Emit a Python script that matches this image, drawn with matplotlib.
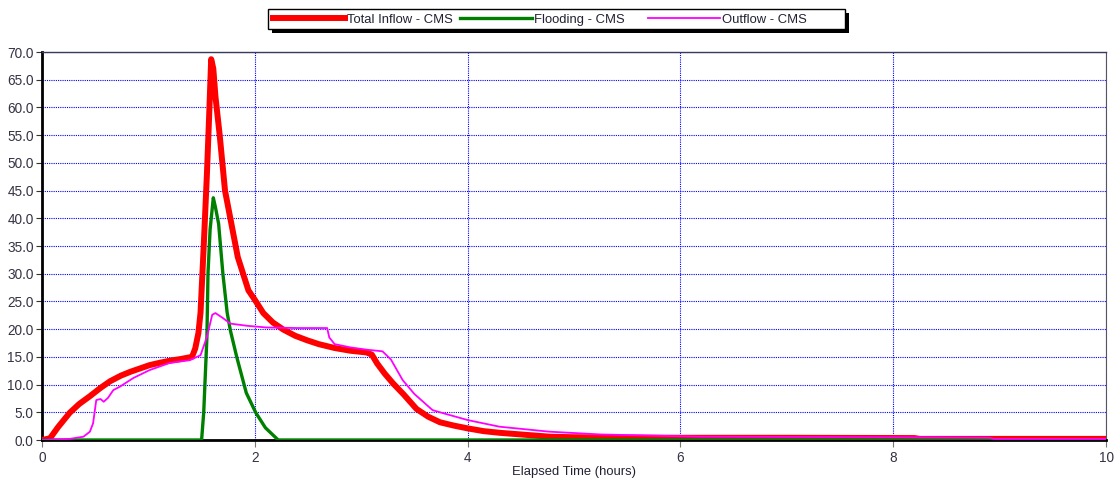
import numpy as np
import matplotlib.pyplot as plt
from matplotlib.patches import Rectangle

plt.rcParams['font.family'] = ['Liberation Sans', 'DejaVu Sans']

# Total Inflow - CMS
inflow_t = [0.0, 0.075, 0.15, 0.26, 0.35, 0.45, 0.55, 0.64, 0.74, 0.83, 0.92, 1.01, 1.1, 1.2,
            1.3, 1.41, 1.44, 1.47, 1.49, 1.52, 1.55, 1.57, 1.59, 1.61, 1.63, 1.67, 1.72, 1.79,
            1.84, 1.94, 2.0, 2.08, 2.17, 2.27, 2.38, 2.49, 2.6, 2.75, 2.9, 3.05, 3.1, 3.15,
            3.22, 3.3, 3.4, 3.52, 3.63, 3.74, 3.87, 4.0, 4.15, 4.3, 4.5, 4.77, 5.0, 5.5, 6.0,
            7.0, 8.2, 8.25, 9.0, 10.0]
inflow_v = [0.0, 0.3, 2.3, 4.9, 6.5, 7.9, 9.4, 10.6, 11.6, 12.3, 12.9, 13.5, 13.9, 14.3,
            14.6, 15.0, 16.5, 19.3, 23.0, 35.0, 48.0, 58.0, 68.7, 67.0, 62.0, 55.0, 45.0, 38.0,
            33.0, 27.0, 25.3, 22.9, 21.2, 19.9, 18.8, 18.0, 17.3, 16.6, 16.1, 15.8, 15.4, 13.8,
            12.0, 10.2, 8.2, 5.6, 4.2, 3.2, 2.6, 2.1, 1.6, 1.3, 1.0, 0.6, 0.5, 0.45, 0.4,
            0.4, 0.35, 0.2, 0.2, 0.2]

# Flooding - CMS
flood_t = [0.0, 1.5, 1.52, 1.55, 1.56, 1.58, 1.61, 1.63, 1.66, 1.7, 1.74, 1.77, 1.83, 1.92,
           2.01, 2.1, 2.22, 10.0]
flood_v = [0.0, 0.0, 5.0, 18.6, 30.0, 38.0, 43.7, 42.0, 39.0, 30.0, 23.0, 19.8, 15.0, 8.5,
           4.9, 2.2, 0.0, 0.0]

# Outflow - CMS
out_t = [0.0, 0.26, 0.39, 0.45, 0.48, 0.51, 0.55, 0.58, 0.62, 0.67, 0.73, 0.86, 1.01, 1.2,
         1.39, 1.49, 1.55, 1.6, 1.63, 1.7, 1.77, 1.93, 2.11, 2.4, 2.68, 2.7, 2.75, 2.9, 3.05,
         3.2, 3.28, 3.39, 3.5, 3.67, 3.74, 4.0, 4.3, 4.77, 5.25, 5.7, 6.2, 7.0, 8.0, 8.9,
         8.95, 10.0]
out_v = [0.0, 0.2, 0.6, 1.5, 3.0, 7.2, 7.4, 6.9, 7.6, 9.0, 9.6, 11.2, 12.6, 13.9,
         14.4, 15.3, 18.6, 22.6, 22.9, 22.0, 21.0, 20.6, 20.3, 20.2, 20.2, 18.5, 17.3, 16.7, 16.3,
         16.0, 14.5, 10.8, 8.3, 5.4, 5.0, 3.6, 2.4, 1.5, 1.0, 0.8, 0.6, 0.55, 0.5, 0.4,
         0.2, 0.2]

W, H = 1115, 483
fig = plt.figure(figsize=(W / 100, H / 100), dpi=100)
ax = fig.add_axes([42 / W, 43 / H, 1064 / W, 388 / H])

l1, = ax.plot(inflow_t, inflow_v, color='#ff0000', lw=4.3, label='Total Inflow - CMS', zorder=3)
l2, = ax.plot(flood_t, flood_v, color='#008000', lw=2.4, label='Flooding - CMS', zorder=4)
l3, = ax.plot(out_t, out_v, color='#ff00ff', lw=1.3, label='Outflow - CMS', zorder=5)

ax.set_xlim(0, 10)
ax.set_ylim(0, 70)
ax.set_xticks([0, 2, 4, 6, 8, 10])
yt = np.arange(0, 71, 5)
ax.set_yticks(yt)
ax.set_yticklabels([f'{v:.1f}' for v in yt])
ax.tick_params(axis='y', labelsize=9.8, length=4, width=0.8, colors='#333333',
               labelcolor='#333344', pad=2)
ax.tick_params(axis='x', labelsize=9.8, length=5, width=0.8, colors='#777777',
               labelcolor='#333344', pad=3)
ax.grid(True, color='#0000ff', linestyle=(0, (1, 1)), lw=0.8)
ax.set_axisbelow(True)

for s in ['left', 'bottom']:
    ax.spines[s].set_linewidth(2)
    ax.spines[s].set_color('black')
ax.spines['top'].set_color('#3a3a5a')
ax.spines['top'].set_linewidth(1)
ax.spines['right'].set_color('#555566')
ax.spines['right'].set_linewidth(0.8)

ax.set_xlabel('Elapsed Time (hours)', fontsize=9.4, color='#222233')
ax.xaxis.set_label_coords(0.5, -0.067)

# legend box with shadow
fig.add_artist(Rectangle((272 / W, 1 - 33 / H), 577 / W, 20 / H, transform=fig.transFigure,
                         facecolor='black', edgecolor='black', lw=0, zorder=1))
fig.add_artist(Rectangle((268 / W, 1 - 29 / H), 577 / W, 20 / H, transform=fig.transFigure,
                         facecolor='white', edgecolor='black', lw=1, zorder=2))
for line, xpx in [(l1, 273), (l2, 460), (l3, 648)]:
    lg = fig.legend(handles=[line], loc='center left', bbox_to_anchor=(xpx / W, 1 - 19.5 / H),
                    frameon=False, borderpad=0, borderaxespad=0, fontsize=9.4,
                    handlelength=5.5, handletextpad=0.15)
    lg.set_zorder(3)
    for t in lg.get_texts():
        t.set_color('#222233')

fig.savefig('out.png', dpi=100)
